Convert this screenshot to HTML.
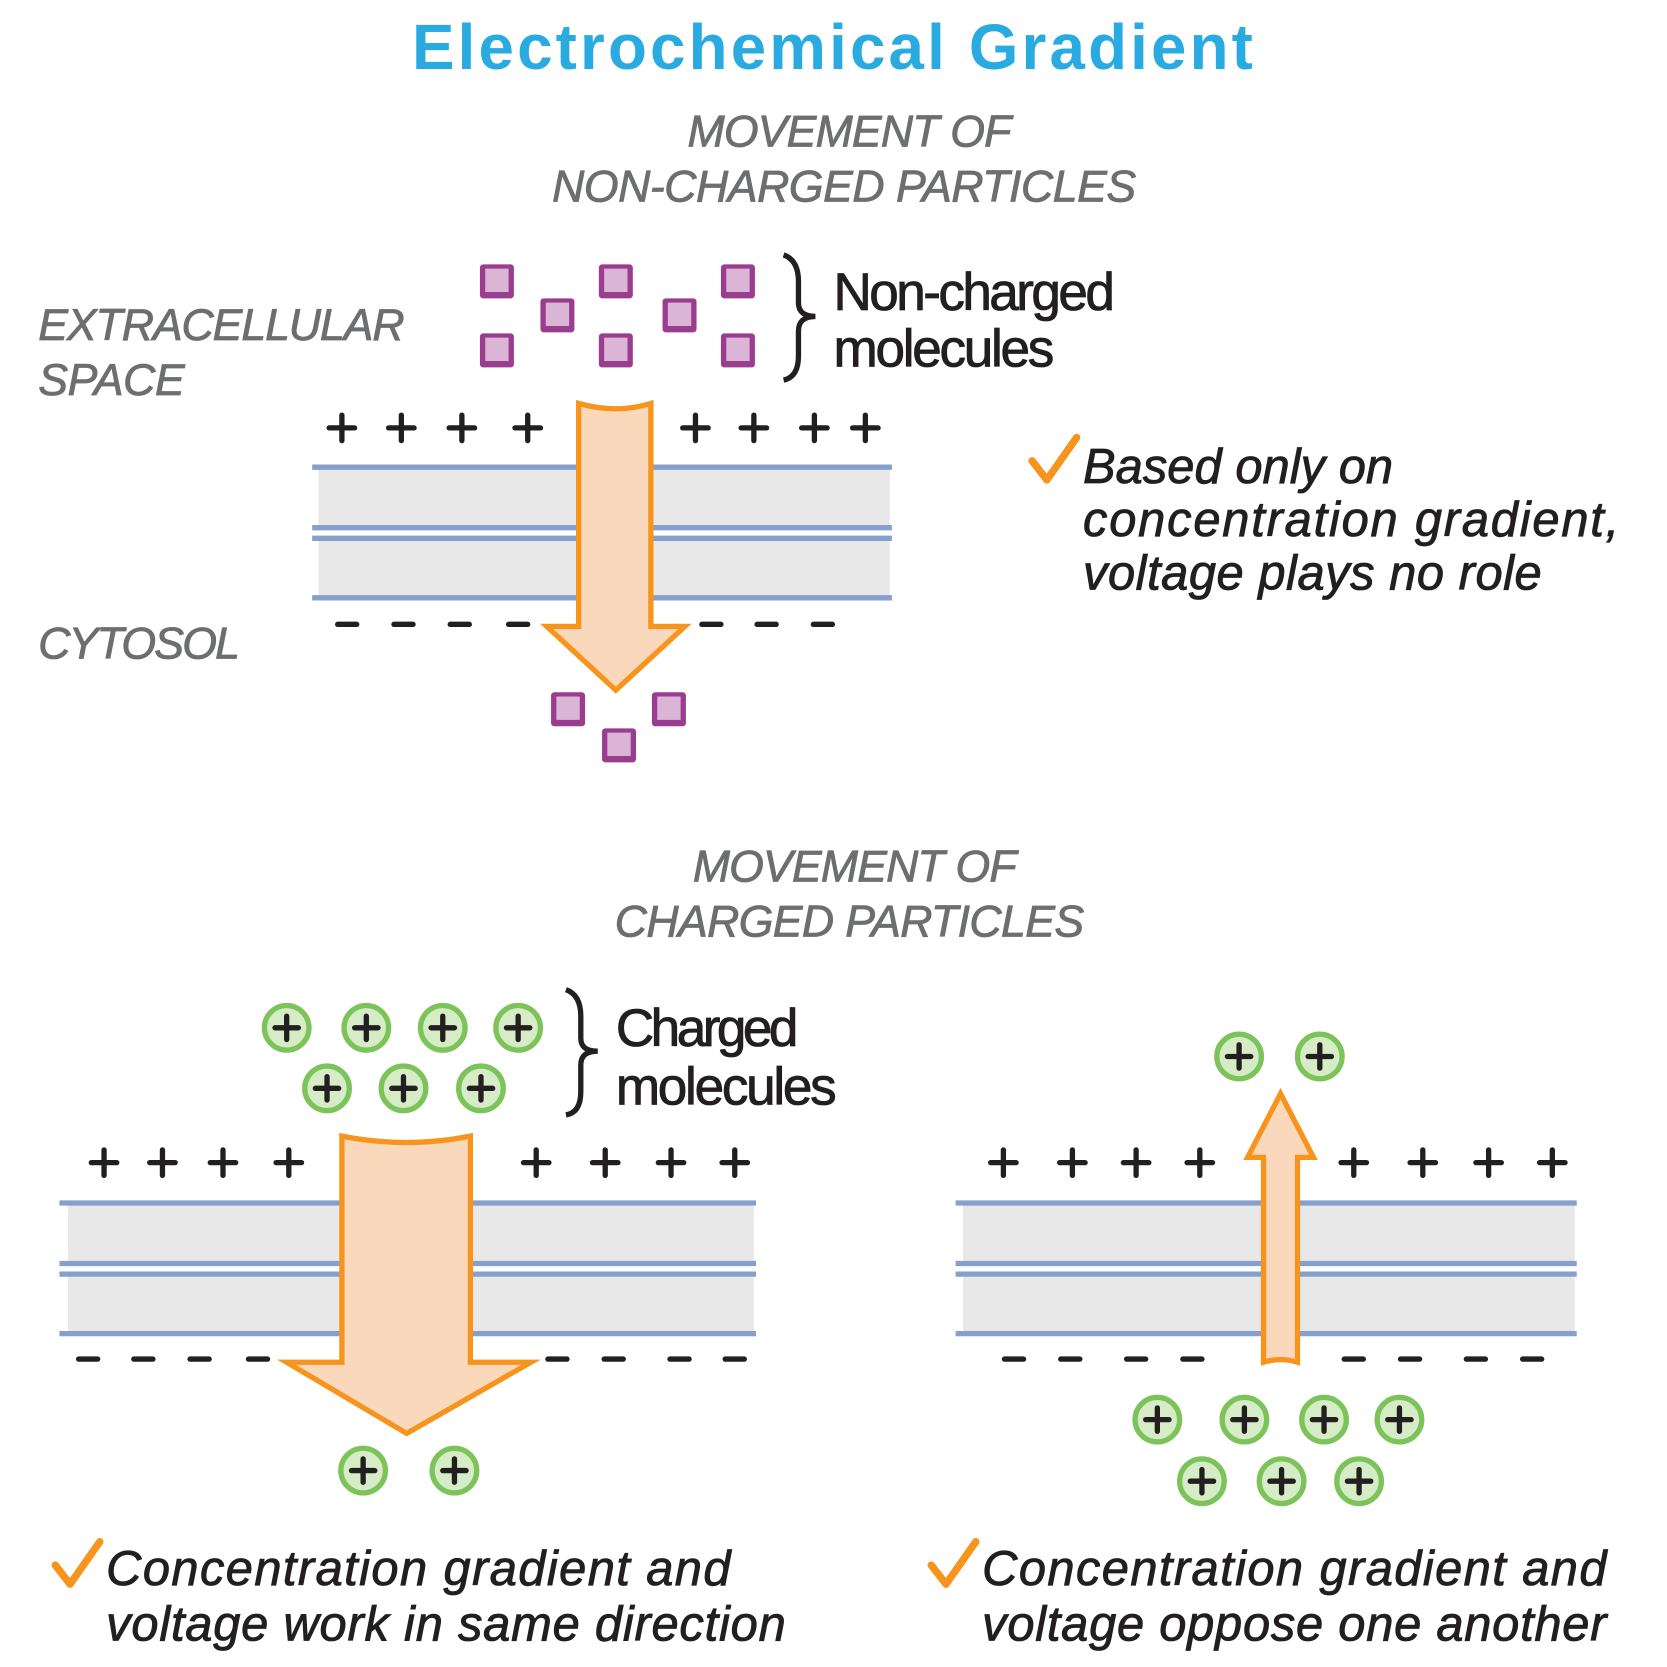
<!DOCTYPE html>
<html><head><meta charset="utf-8"><style>html,body{margin:0;padding:0;background:#fff}svg{display:block}</style></head>
<body>
<svg width="1667" height="1667" viewBox="0 0 1570 1570" xmlns="http://www.w3.org/2000/svg" font-family="Liberation Sans, sans-serif">
<defs>
<g id="sq"><rect x="-16" y="-16" width="32" height="32" rx="3" fill="#9b3d8e"/><rect x="-11" y="-12" width="22" height="22" fill="#dbb5d6"/></g>
<g id="ion"><circle r="21" fill="#d5ecc6" stroke="#7cc35a" stroke-width="5"/><path d="M-11 0H11M0-11V11" stroke="#231f20" stroke-width="5" stroke-linecap="round"/></g>
<g id="pl"><path d="M-12 0H12M0-12V12" stroke="#231f20" stroke-width="5" stroke-linecap="round"/></g>
<g id="mi"><path d="M-9 0H9" stroke="#231f20" stroke-width="5" stroke-linecap="round"/></g>
<path id="chk" d="M0 22 L14 40 L42 0" fill="none" stroke="#f7941d" stroke-width="7" stroke-linecap="round" stroke-linejoin="round"/>
</defs>
<text x="388" y="65" textLength="792" font-weight="bold" font-size="60" fill="#29abe2">Electrochemical Gradient</text>
<g font-style="italic" fill="#6d6e70" font-size="42" stroke="#6d6e70" stroke-width="0.8">
<text x="800" y="138" text-anchor="middle" textLength="305">MOVEMENT OF</text>
<text x="795" y="190" text-anchor="middle" textLength="550">NON-CHARGED PARTICLES</text>
<text x="36" y="320" textLength="345">EXTRACELLULAR</text>
<text x="36" y="372" textLength="138">SPACE</text>
<text x="36" y="620" textLength="190">CYTOSOL</text>
<text x="805" y="830" text-anchor="middle" textLength="305">MOVEMENT OF</text>
<text x="800" y="882" text-anchor="middle" textLength="442">CHARGED PARTICLES</text>
</g>
<rect x="300" y="440" width="538" height="57" fill="#e8e8e8"/><rect x="300" y="507" width="538" height="56" fill="#e8e8e8"/>
<g stroke="#85a0cc" stroke-width="5"><path d="M294 440H840M294 497H840M294 507H840M294 563H840"/></g>
<g><use href="#pl" x="322" y="403"/><use href="#pl" x="378" y="403"/><use href="#pl" x="435" y="403"/><use href="#pl" x="497" y="403"/><use href="#pl" x="655" y="403"/><use href="#pl" x="710" y="403"/><use href="#pl" x="767" y="403"/><use href="#pl" x="815" y="403"/>
<use href="#mi" x="327" y="588"/><use href="#mi" x="380" y="588"/><use href="#mi" x="433" y="588"/><use href="#mi" x="488" y="588"/><use href="#mi" x="670" y="588"/><use href="#mi" x="722" y="588"/><use href="#mi" x="775" y="588"/></g>
<path d="M545 380 Q580 390 613 380 V590 H645 L580 650 L515 590 H545 Z" fill="#fad8bb" stroke="#f7941d" stroke-width="5" stroke-linejoin="miter"/>
<g><use href="#sq" x="468" y="265"/><use href="#sq" x="580" y="265"/><use href="#sq" x="695" y="265"/><use href="#sq" x="525" y="297"/><use href="#sq" x="640" y="297"/><use href="#sq" x="468" y="330"/><use href="#sq" x="580" y="330"/><use href="#sq" x="695" y="330"/>
<use href="#sq" x="535" y="668"/><use href="#sq" x="630" y="668"/><use href="#sq" x="583" y="702"/></g>
<path d="M738 240 Q752 245 752 265 V285 Q752 298 768 298 Q752 298 752 312 V335 Q752 355 738 358" fill="none" stroke="#231f20" stroke-width="5"/>
<g fill="#231f20" font-size="50" stroke="#231f20" stroke-width="0.8"><text x="785" y="292" textLength="265">Non-charged</text><text x="785" y="345" textLength="208">molecules</text>
<text x="580" y="985" textLength="172">Charged</text><text x="580" y="1040" textLength="208">molecules</text></g>
<path d="M533 932 Q547 937 547 957 V978 Q547 990 563 990 Q547 990 547 1003 V1028 Q547 1048 533 1050" fill="none" stroke="#231f20" stroke-width="5"/>
<use href="#chk" x="972" y="412"/>
<g font-style="italic" fill="#231f20" font-size="46" stroke="#231f20" stroke-width="0.8">
<text x="1020" y="455" textLength="292">Based only on</text>
<text x="1020" y="505" textLength="505">concentration gradient,</text>
<text x="1020" y="555" textLength="432">voltage plays no role</text>
<text x="100" y="1493" textLength="588">Concentration gradient and</text>
<text x="100" y="1545" textLength="640">voltage work in same direction</text>
<text x="925" y="1493" textLength="588">Concentration gradient and</text>
<text x="925" y="1545" textLength="588">voltage oppose one another</text>
</g>
<use href="#chk" x="52" y="1452"/><use href="#chk" x="877" y="1452"/>
<rect x="64" y="1133" width="646" height="57" fill="#e8e8e8"/><rect x="64" y="1200" width="646" height="56" fill="#e8e8e8"/>
<g stroke="#85a0cc" stroke-width="5"><path d="M56 1133H712M56 1190H712M56 1200H712M56 1256H712"/></g>
<g><use href="#pl" x="98" y="1095"/><use href="#pl" x="153" y="1095"/><use href="#pl" x="210" y="1095"/><use href="#pl" x="272" y="1095"/><use href="#pl" x="505" y="1095"/><use href="#pl" x="570" y="1095"/><use href="#pl" x="632" y="1095"/><use href="#pl" x="692" y="1095"/>
<use href="#mi" x="83" y="1280"/><use href="#mi" x="135" y="1280"/><use href="#mi" x="188" y="1280"/><use href="#mi" x="243" y="1280"/><use href="#mi" x="525" y="1280"/><use href="#mi" x="578" y="1280"/><use href="#mi" x="640" y="1280"/><use href="#mi" x="692" y="1280"/></g>
<path d="M322 1070 Q383 1082 443 1070 V1283 H500 L383 1350 L270 1283 H322 Z" fill="#fad8bb" stroke="#f7941d" stroke-width="5"/>
<rect x="907" y="1133" width="576" height="57" fill="#e8e8e8"/><rect x="907" y="1200" width="576" height="56" fill="#e8e8e8"/>
<g stroke="#85a0cc" stroke-width="5"><path d="M900 1133H1485M900 1190H1485M900 1200H1485M900 1256H1485"/></g>
<g><use href="#pl" x="945" y="1095"/><use href="#pl" x="1010" y="1095"/><use href="#pl" x="1070" y="1095"/><use href="#pl" x="1130" y="1095"/><use href="#pl" x="1275" y="1095"/><use href="#pl" x="1340" y="1095"/><use href="#pl" x="1402" y="1095"/><use href="#pl" x="1462" y="1095"/>
<use href="#mi" x="955" y="1280"/><use href="#mi" x="1008" y="1280"/><use href="#mi" x="1070" y="1280"/><use href="#mi" x="1123" y="1280"/><use href="#mi" x="1275" y="1280"/><use href="#mi" x="1328" y="1280"/><use href="#mi" x="1390" y="1280"/><use href="#mi" x="1443" y="1280"/></g>
<path d="M1190 1283 Q1206 1278 1222 1283 V1090 H1237 L1206 1030 L1175 1090 H1190 Z" fill="#fad8bb" stroke="#f7941d" stroke-width="5"/>
<g><use href="#ion" x="270" y="968"/><use href="#ion" x="345" y="968"/><use href="#ion" x="417" y="968"/><use href="#ion" x="488" y="968"/><use href="#ion" x="308" y="1025"/><use href="#ion" x="380" y="1025"/><use href="#ion" x="453" y="1025"/>
<use href="#ion" x="342" y="1385"/><use href="#ion" x="428" y="1385"/>
<use href="#ion" x="1167" y="995"/><use href="#ion" x="1243" y="995"/>
<use href="#ion" x="1090" y="1337"/><use href="#ion" x="1172" y="1337"/><use href="#ion" x="1247" y="1337"/><use href="#ion" x="1318" y="1337"/><use href="#ion" x="1132" y="1395"/><use href="#ion" x="1207" y="1395"/><use href="#ion" x="1280" y="1395"/></g>
</svg>
</body></html>
